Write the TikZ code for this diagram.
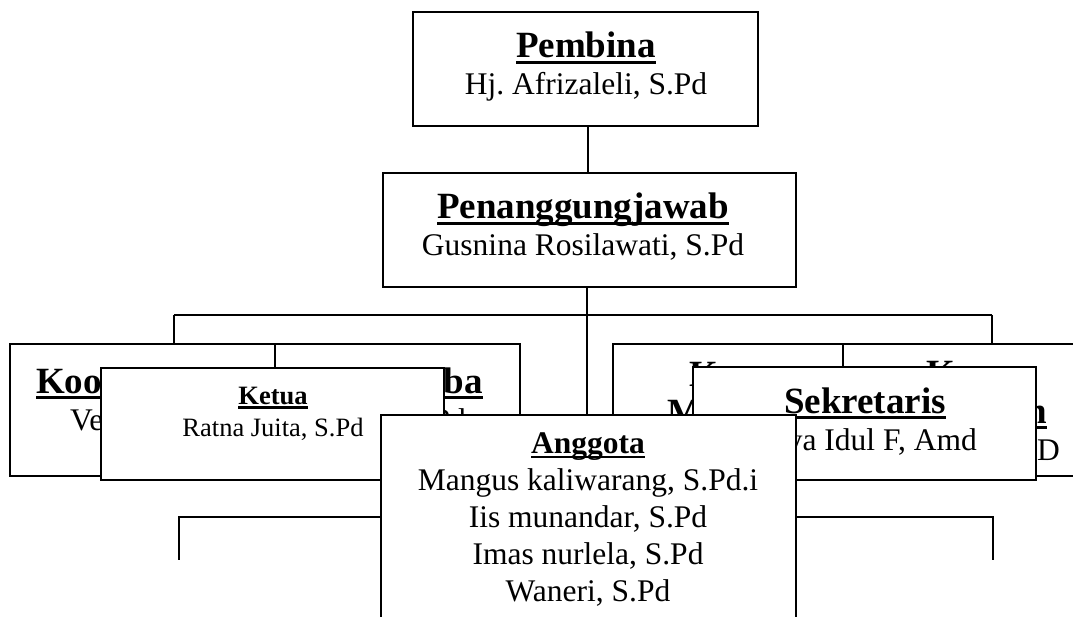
\documentclass[tikz,border=0pt]{standalone}
\usepackage{fontspec}
\setmainfont{Liberation Serif}
\usetikzlibrary{fit}
\frenchspacing

\newlength{\ulwd}
\newcommand{\ultext}[1]{\settowidth{\ulwd}{#1}\rlap{\rule[-0.17em]{\ulwd}{0.09em}}#1}

\tikzset{
box/.style={draw, fill=white, line width=1.6pt, inner sep=0pt},
garis/.style={line width=1.4pt},
judul/.style={font=\fontsize{37}{44}\selectfont\bfseries, inner sep=0pt, anchor=base},
judulsedang/.style={font=\fontsize{31.5}{37}\selectfont\bfseries, inner sep=0pt, anchor=base},
judulkecil/.style={font=\fontsize{26.5}{32}\selectfont\bfseries, inner sep=0pt, anchor=base},
nama/.style={font=\fontsize{31.5}{37}\selectfont, inner sep=0pt, anchor=base},
namakecil/.style={font=\fontsize{26.5}{32}\selectfont, inner sep=0pt, anchor=base}
}

\newcommand{\orgbox}[3]{
\node [box, fit={(#2) (#3)}] (#1) {};
}

\begin{document}
\begin{tikzpicture}[x=1pt,y=-1pt]
\useasboundingbox (0,0) rectangle (1073,617);
\clip (0,0) rectangle (1073,617);
\fill [white] (0,0) rectangle (1073,617);

\path (174,315) coordinate (busL);
\path (992,315) coordinate (busR);
\path (179,517) coordinate (armL);
\path (993,517) coordinate (armR);
\path (179,560) coordinate (hangL);
\path (993,560) coordinate (hangR);

\draw [garis] (busL) -- (busR);

\orgbox{pembina}{413,12}{758,126};
\node [judul] (pembinaT) at (586,58) {\ultext{Pembina}};
\node [nama] (pembinaN) at (586,95) {Hj. Afrizaleli, S.Pd};

\orgbox{pj}{383,173}{796,287};
\node [judul] (pjT) at (583,219) {\ultext{Penanggungjawab}};
\node [nama] (pjN) at (583,256) {Gusnina Rosilawati, S.Pd};

\draw [garis] (pj.north -| 588,0) -- (pembina.south -| 588,0);

% kotak yang tertutup
\orgbox{koorA}{10,344}{275,476};
\orgbox{koorB}{275,344}{520,476};
\orgbox{koorC}{613,344}{843,476};
\orgbox{koorD}{843,344}{1100,476};
\node [judul, anchor=base west] (koorAT) at (36,393) {\ultext{Koo}};
\node [nama, anchor=base west] (koorAN) at (70,430) {Ve};
\node [judul, anchor=base east] (koorBT) at (483,393) {\ultext{ba}};
\node [nama, anchor=base east] (koorBN) at (466,430) {S.Pd};
\node [judul, anchor=base west] (koorCT) at (689,386) {K};
\node [judul, anchor=base west] (koorCM) at (667,424) {M};
\node [judul, anchor=base west] (koorDT) at (926,385) {K};
\node [judul, anchor=base east] (koorDM) at (1047,423) {\ultext{n}};
\node [nama, anchor=base west] (koorDN) at (1037,460) {D};

\draw [garis] (busL) -- (busL |- koorA.north);
\draw [garis] (busR) -- (busR |- koorD.north);

\orgbox{ketua}{101,368}{444,480};
\node [judulkecil] (ketuaT) at (273,404) {\ultext{Ketua}};
\node [namakecil] (ketuaN) at (273,436) {Ratna Juita, S.Pd};

\orgbox{sekretaris}{693,367}{1036,480};
\node [judul] (sekretarisT) at (865,413) {\ultext{Sekretaris}};
\node [nama] (sekretarisN) at (865,450) {Yaya Idul F, Amd};

\orgbox{anggota}{381,415}{796,625};
\node [judulsedang] (anggotaT) at (588,453) {\ultext{Anggota}};
\foreach \nm [count=\i] in {{Mangus kaliwarang, S.Pd.i},{Iis munandar, S.Pd},{Imas nurlela, S.Pd},{Waneri, S.Pd}}
  \node [nama] (anggotaN\i) at (588,{453+37*\i}) {\nm};

\draw [garis] (pj.south -| 587,0) -- (anggota.north -| 587,0);
\draw [garis] (armL -| anggota.west) -- (armL) -- (hangL);
\draw [garis] (armR -| anggota.east) -- (armR) -- (hangR);
\end{tikzpicture}
\end{document}
